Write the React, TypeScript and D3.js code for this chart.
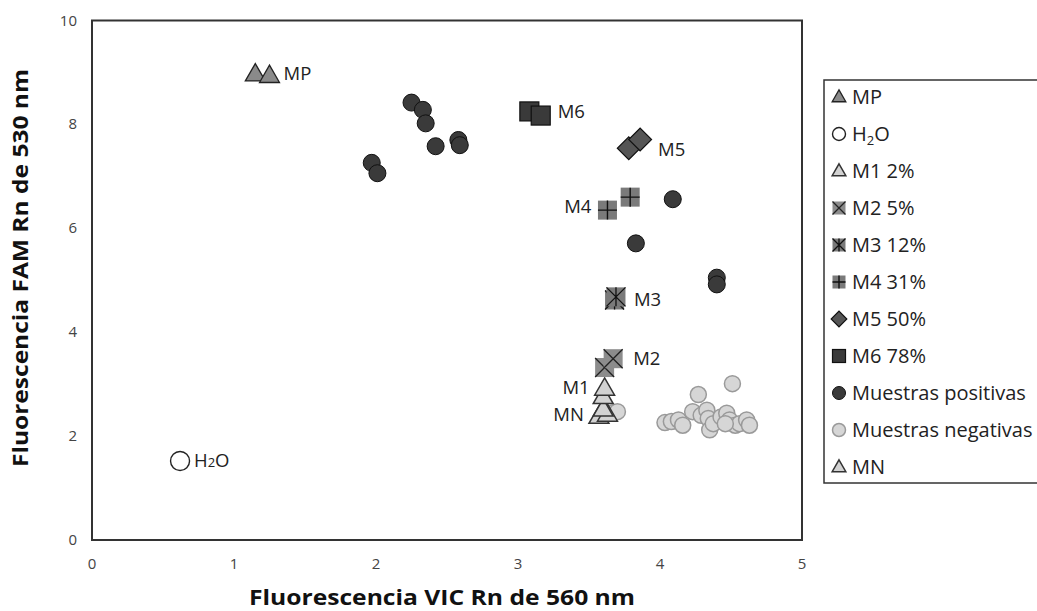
import React from "react";
import * as d3 from "d3";

type P = [number, number];

const xTicks = [0, 1, 2, 3, 4, 5];
const yTicks = [0, 2, 4, 6, 8, 10];

const MP: P[] = [[1.15, 8.97], [1.25, 8.94]];
const H2O: P[] = [[0.62, 1.52]];
const M1: P[] = [[3.6, 2.76], [3.61, 2.92]];
const MN: P[] = [[3.57, 2.38], [3.63, 2.42], [3.6, 2.52]];
const M2: P[] = [[3.61, 3.32], [3.67, 3.49]];
const M3: P[] = [[3.68, 4.62], [3.69, 4.68]];
const M4: P[] = [[3.63, 6.35], [3.79, 6.6]];
const M5: P[] = [[3.78, 7.54], [3.86, 7.71]];
const M6: P[] = [[3.08, 8.25], [3.16, 8.17]];
const positives: P[] = [
  [2.25, 8.42], [2.33, 8.28], [2.35, 8.02], [2.42, 7.58], [2.58, 7.7],
  [2.59, 7.6], [1.97, 7.26], [2.01, 7.06], [4.09, 6.56], [3.83, 5.71],
  [4.4, 5.05], [4.4, 4.92],
];
const negatives: P[] = [
  [3.67, 2.45], [3.7, 2.47],
  [4.51, 3.01], [4.27, 2.8], [4.035, 2.26], [4.08, 2.28], [4.13, 2.31],
  [4.16, 2.21], [4.23, 2.47], [4.29, 2.4], [4.33, 2.5], [4.34, 2.34],
  [4.35, 2.12], [4.375, 2.24], [4.43, 2.37], [4.47, 2.44], [4.49, 2.31],
  [4.53, 2.21], [4.56, 2.24], [4.61, 2.31], [4.63, 2.21], [4.46, 2.24],
];

const legendLabels = [
  "MP", "H2O", "M1 2%", "M2 5%", "M3 12%", "M4 31%", "M5 50%", "M6 78%",
  "Muestras positivas", "Muestras negativas", "MN",
];
const legendKinds = [
  "mp", "h2o", "mlight", "m2", "m3", "m4", "m5", "m6", "pos", "neg", "mlight",
];

const FONT = "'Open Sans', 'DejaVu Sans', sans-serif";

const x = d3.scaleLinear().domain([0, 5]).range([92, 802]);
const y = d3.scaleLinear().domain([0, 10]).range([540, 20.5]);

function tri(w: number) {
  const h = w * 0.87;
  return `M0,${-h * 0.6}L${w / 2},${h * 0.4}L${-w / 2},${h * 0.4}Z`;
}

function Marker({ kind, cx, cy, s }: { kind: string; cx: number; cy: number; s: number }) {
  const t = `translate(${cx},${cy})`;
  const h = s / 2;
  switch (kind) {
    case "mp":
      return <path transform={t} d={tri(s * 1.05)} fill="#8a8a8a" stroke="#222" strokeWidth={1.3} />;
    case "mlight":
      return <path transform={t} d={tri(s * 1.05)} fill="#d2d2d2" stroke="#333" strokeWidth={1.5} />;
    case "h2o":
      return <circle cx={cx} cy={cy} r={h} fill="#fff" stroke="#222" strokeWidth={1.4} />;
    case "pos":
      return <circle cx={cx} cy={cy} r={h} fill="#3a3a3a" stroke="#111" strokeWidth={1} />;
    case "neg":
      return <circle cx={cx} cy={cy} r={h} fill="#d6d6d6" stroke="#9a9a9a" strokeWidth={1.5} />;
    case "m2":
      return (
        <g transform={t}>
          <rect x={-h} y={-h} width={s} height={s} fill="#8c8c8c" />
          <path d={`M${-h},${-h}L${h},${h}M${h},${-h}L${-h},${h}`} stroke="#222" strokeWidth={1.3} />
        </g>
      );
    case "m3":
      return (
        <g transform={t}>
          <rect x={-h} y={-h} width={s} height={s} fill="#7a7a7a" />
          <path d={`M${-h},${-h}L${h},${h}M${h},${-h}L${-h},${h}M0,${-h}L0,${h}`} stroke="#111" strokeWidth={1.3} />
        </g>
      );
    case "m4":
      return (
        <g transform={t}>
          <rect x={-h} y={-h} width={s} height={s} fill="#7a7a7a" />
          <path d={`M0,${-h}L0,${h}M${-h},0L${h},0`} stroke="#111" strokeWidth={1.4} />
        </g>
      );
    case "m5":
      return (
        <g transform={`${t} rotate(45)`}>
          <rect x={-h * 0.85} y={-h * 0.85} width={s * 0.85} height={s * 0.85} fill="#555" stroke="#111" strokeWidth={1.2} />
        </g>
      );
    case "m6":
      return <rect x={cx - h} y={cy - h} width={s} height={s} fill="#3a3a3a" stroke="#111" strokeWidth={1.2} />;
    default:
      return null;
  }
}

function Series({ data, kind, s }: { data: P[]; kind: string; s: number }) {
  return (
    <g>
      {data.map((d, i) => (
        <Marker key={i} kind={kind} cx={x(d[0])} cy={y(d[1])} s={s} />
      ))}
    </g>
  );
}

function PLabel({ text, px, py, anchor = "start" }: { text: string; px: number; py: number; anchor?: string }) {
  return (
    <text x={px} y={py + 6} fontSize={18.5} fill="#222" textAnchor={anchor as any} fontFamily={FONT}>
      {text}
    </text>
  );
}

export default function App() {
  const legX = 824;
  const legTop = 80;
  const legStep = 37;
  return (
    <svg width={1037} height={611} style={{ position: "absolute", left: 0, top: 0, background: "#fff" }} fontFamily={FONT}>
      <rect x={0} y={0} width={1037} height={611} fill="#fff" />
      {/* axis tick labels */}
      {yTicks.map((v) => (
        <text key={"y" + v} x={77} y={y(v) + 5} fontSize={15} fill="#444" textAnchor="end">
          {v}
        </text>
      ))}
      {xTicks.map((v) => (
        <text key={"x" + v} x={x(v)} y={569} fontSize={15} fill="#444" textAnchor="middle">
          {v}
        </text>
      ))}
      <text x={442} y={605} fontSize={22} fontWeight="bold" fill="#111" textAnchor="middle" textLength={386} lengthAdjust="spacingAndGlyphs">
        Fluorescencia VIC Rn de 560 nm
      </text>
      <text transform={`translate(28,${268}) rotate(-90)`} fontSize={22} fontWeight="bold" fill="#111" textAnchor="middle" textLength={398} lengthAdjust="spacingAndGlyphs">
        Fluorescencia FAM Rn de 530 nm
      </text>

      {/* plot frame */}
      <rect x={x(0)} y={y(10)} width={x(5) - x(0)} height={y(0) - y(10)} fill="none" stroke="#333" strokeWidth={2} />

      {/* data */}
      <Series data={negatives} kind="neg" s={16} />
      <Series data={positives} kind="pos" s={17} />
      <Series data={H2O} kind="h2o" s={19} />
      <Series data={MP} kind="mp" s={19} />
      <Series data={MN} kind="mlight" s={19} />
      <Series data={M1} kind="mlight" s={19} />
      <Series data={M2} kind="m2" s={19} />
      <Series data={M3} kind="m3" s={19} />
      <Series data={M4} kind="m4" s={19} />
      <Series data={M5} kind="m5" s={19} />
      <Series data={M6} kind="m6" s={19} />

      {/* point labels */}
      <PLabel text="MP" px={x(MP[1][0]) + 14} py={y(MP[0][1])} />
      <PLabel text="M6" px={x(M6[1][0]) + 17} py={y(M6[0][1]) + 1} />
      <PLabel text="M5" px={x(M5[1][0]) + 18} py={y(M5[0][1]) + 2} />
      <PLabel text="M4" px={x(M4[0][0]) - 16} py={y(M4[0][1]) - 3} anchor="end" />
      <PLabel text="M3" px={x(M3[1][0]) + 18} py={y(M3[0][1])} />
      <PLabel text="M2" px={x(M2[1][0]) + 20} py={y(M2[1][1])} />
      <PLabel text="M1" px={x(M1[1][0]) - 15} py={y(M1[1][1])} anchor="end" />
      <PLabel text="MN" px={x(MN[0][0]) - 15} py={y(MN[0][1]) - 1} anchor="end" />
      <text x={x(H2O[0][0]) + 14} y={y(H2O[0][1]) + 6} fontSize={18.5} fill="#222">
        H<tspan fontSize={13}>2</tspan>O
      </text>

      {/* legend */}
      <rect x={legX} y={legTop} width={260} height={403} fill="#fff" stroke="#333" strokeWidth={1.5} />
      {legendLabels.map((lab, i) => {
        const cy = legTop + 17 + i * legStep;
        return (
          <g key={lab + i}>
            <Marker kind={legendKinds[i]} cx={839} cy={cy} s={13} />
            <text x={852} y={cy + 7} fontSize={20} fill="#222">
              {lab === "H2O" ? (
                <>
                  H<tspan fontSize={13} dy={4}>2</tspan>
                  <tspan dy={-4}>O</tspan>
                </>
              ) : (
                lab
              )}
            </text>
          </g>
        );
      })}
    </svg>
  );
}
